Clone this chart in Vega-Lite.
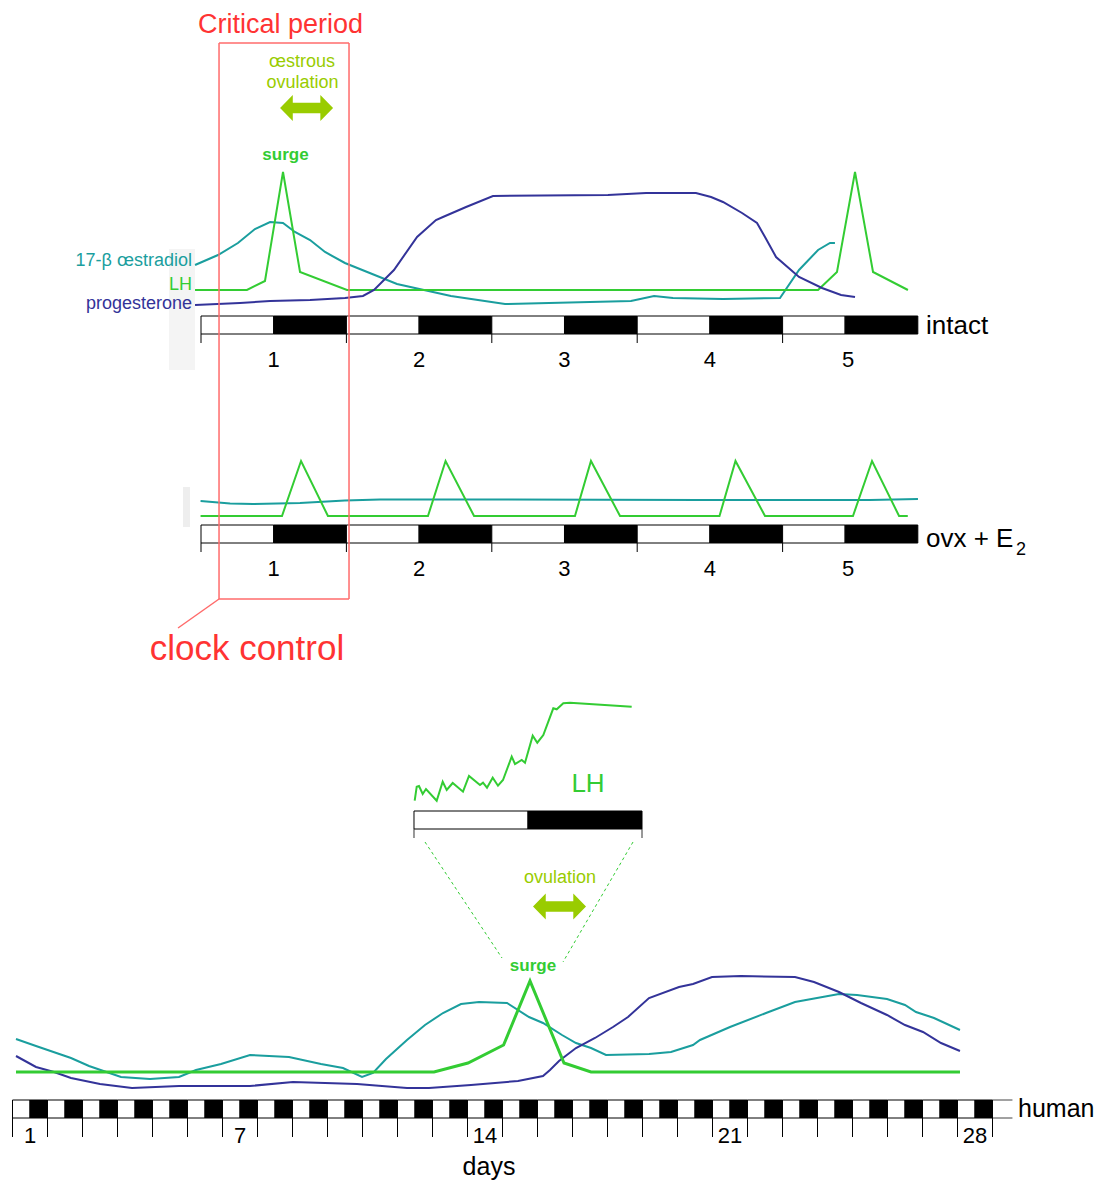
{
  "$schema": "https://vega.github.io/schema/vega-lite/v6.json",
  "padding": 0,
  "spacing": 0,
  "bounds": "flush",
  "config": {"view": {"stroke": null}, "text": {"font": "Liberation Sans"}},
  "datasets": {
    "ratDays": [
      {"day": 0, "day2": 0.5, "phase": "light", "level": 94, "level2": 76}, {"day": 0.5, "day2": 1, "phase": "dark", "level": 94, "level2": 76},
      {"day": 1, "day2": 1.5, "phase": "light", "level": 94, "level2": 76}, {"day": 1.5, "day2": 2, "phase": "dark", "level": 94, "level2": 76},
      {"day": 2, "day2": 2.5, "phase": "light", "level": 94, "level2": 76}, {"day": 2.5, "day2": 3, "phase": "dark", "level": 94, "level2": 76},
      {"day": 3, "day2": 3.5, "phase": "light", "level": 94, "level2": 76}, {"day": 3.5, "day2": 4, "phase": "dark", "level": 94, "level2": 76},
      {"day": 4, "day2": 4.43, "phase": "light", "level": 94, "level2": 76}, {"day": 4.43, "day2": 4.93, "phase": "dark", "level": 94, "level2": 76}
    ],
    "ratTicks": [
      {"day": 0, "level": 76, "level2": 67}, {"day": 1, "level": 76, "level2": 67}, {"day": 2, "level": 76, "level2": 67},
      {"day": 3, "level": 76, "level2": 67}, {"day": 4, "level": 76, "level2": 67}
    ],
    "ratLabels": [
      {"day": 0.5, "label": "1", "level": 43}, {"day": 1.5, "label": "2", "level": 43}, {"day": 2.5, "label": "3", "level": 43},
      {"day": 3.5, "label": "4", "level": 43}, {"day": 4.45, "label": "5", "level": 43}
    ],
    "intact": [
      {"hormone": "17-β œstradiol", "day": -0.041, "level": 145},
      {"hormone": "17-β œstradiol", "day": 0.117, "level": 155},
      {"hormone": "17-β œstradiol", "day": 0.254, "level": 167},
      {"hormone": "17-β œstradiol", "day": 0.371, "level": 181},
      {"hormone": "17-β œstradiol", "day": 0.475, "level": 188},
      {"hormone": "17-β œstradiol", "day": 0.564, "level": 187},
      {"hormone": "17-β œstradiol", "day": 0.646, "level": 178},
      {"hormone": "17-β œstradiol", "day": 0.75, "level": 170},
      {"hormone": "17-β œstradiol", "day": 0.853, "level": 158},
      {"hormone": "17-β œstradiol", "day": 0.99, "level": 147},
      {"hormone": "17-β œstradiol", "day": 1.348, "level": 126},
      {"hormone": "17-β œstradiol", "day": 1.719, "level": 114},
      {"hormone": "17-β œstradiol", "day": 2.091, "level": 106},
      {"hormone": "17-β œstradiol", "day": 2.957, "level": 109},
      {"hormone": "17-β œstradiol", "day": 3.116, "level": 114},
      {"hormone": "17-β œstradiol", "day": 3.246, "level": 112},
      {"hormone": "17-β œstradiol", "day": 3.59, "level": 111},
      {"hormone": "17-β œstradiol", "day": 3.982, "level": 112},
      {"hormone": "17-β œstradiol", "day": 4.113, "level": 140},
      {"hormone": "17-β œstradiol", "day": 4.244, "level": 160},
      {"hormone": "17-β œstradiol", "day": 4.326, "level": 167},
      {"hormone": "17-β œstradiol", "day": 4.36, "level": 167},
      {"hormone": "LH", "day": -0.041, "level": 120},
      {"hormone": "LH", "day": 0.316, "level": 120},
      {"hormone": "LH", "day": 0.44, "level": 129},
      {"hormone": "LH", "day": 0.564, "level": 238},
      {"hormone": "LH", "day": 0.681, "level": 138},
      {"hormone": "LH", "day": 1.004, "level": 120},
      {"hormone": "LH", "day": 4.244, "level": 120},
      {"hormone": "LH", "day": 4.374, "level": 138},
      {"hormone": "LH", "day": 4.498, "level": 238},
      {"hormone": "LH", "day": 4.622, "level": 138},
      {"hormone": "LH", "day": 4.862, "level": 120},
      {"hormone": "progesterone", "day": -0.041, "level": 105},
      {"hormone": "progesterone", "day": 0.268, "level": 107},
      {"hormone": "progesterone", "day": 0.475, "level": 109},
      {"hormone": "progesterone", "day": 0.75, "level": 110},
      {"hormone": "progesterone", "day": 0.99, "level": 112},
      {"hormone": "progesterone", "day": 1.114, "level": 114},
      {"hormone": "progesterone", "day": 1.19, "level": 120},
      {"hormone": "progesterone", "day": 1.327, "level": 140},
      {"hormone": "progesterone", "day": 1.486, "level": 173},
      {"hormone": "progesterone", "day": 1.616, "level": 190},
      {"hormone": "progesterone", "day": 1.664, "level": 193},
      {"hormone": "progesterone", "day": 1.823, "level": 203},
      {"hormone": "progesterone", "day": 2.008, "level": 214},
      {"hormone": "progesterone", "day": 2.799, "level": 215},
      {"hormone": "progesterone", "day": 3.061, "level": 217},
      {"hormone": "progesterone", "day": 3.404, "level": 217},
      {"hormone": "progesterone", "day": 3.508, "level": 213},
      {"hormone": "progesterone", "day": 3.59, "level": 208},
      {"hormone": "progesterone", "day": 3.721, "level": 197},
      {"hormone": "progesterone", "day": 3.824, "level": 187},
      {"hormone": "progesterone", "day": 3.879, "level": 173},
      {"hormone": "progesterone", "day": 3.955, "level": 153},
      {"hormone": "progesterone", "day": 4.113, "level": 133},
      {"hormone": "progesterone", "day": 4.271, "level": 122},
      {"hormone": "progesterone", "day": 4.402, "level": 115},
      {"hormone": "progesterone", "day": 4.498, "level": 113}
    ],
    "ovx": [
      {"hormone": "17-β œstradiol", "day": -0.003, "level": 118},
      {"hormone": "17-β œstradiol", "day": 0.2, "level": 115.5},
      {"hormone": "17-β œstradiol", "day": 0.358, "level": 115},
      {"hormone": "17-β œstradiol", "day": 0.681, "level": 116},
      {"hormone": "17-β œstradiol", "day": 0.99, "level": 118.5},
      {"hormone": "17-β œstradiol", "day": 1.231, "level": 119.5},
      {"hormone": "17-β œstradiol", "day": 2.056, "level": 119.5},
      {"hormone": "17-β œstradiol", "day": 3.432, "level": 119},
      {"hormone": "17-β œstradiol", "day": 4.601, "level": 119},
      {"hormone": "17-β œstradiol", "day": 4.931, "level": 120},
      {"hormone": "LH", "day": -0.003, "level": 103},
      {"hormone": "LH", "day": 0.557, "level": 103},
      {"hormone": "LH", "day": 0.688, "level": 158},
      {"hormone": "LH", "day": 0.873, "level": 103},
      {"hormone": "LH", "day": 1.561, "level": 103},
      {"hormone": "LH", "day": 1.682, "level": 158},
      {"hormone": "LH", "day": 1.878, "level": 103},
      {"hormone": "LH", "day": 2.572, "level": 103},
      {"hormone": "LH", "day": 2.682, "level": 158},
      {"hormone": "LH", "day": 2.882, "level": 103},
      {"hormone": "LH", "day": 3.566, "level": 103},
      {"hormone": "LH", "day": 3.676, "level": 158},
      {"hormone": "LH", "day": 3.879, "level": 103},
      {"hormone": "LH", "day": 4.484, "level": 103},
      {"hormone": "LH", "day": 4.615, "level": 158},
      {"hormone": "LH", "day": 4.801, "level": 103},
      {"hormone": "LH", "day": 4.861, "level": 103}
    ],
    "humanDays": [
      {"day": 1, "day2": 1.5, "phase": "light", "level": 82, "level2": 64}, {"day": 1.5, "day2": 2, "phase": "dark", "level": 82, "level2": 64},
      {"day": 2, "day2": 2.5, "phase": "light", "level": 82, "level2": 64}, {"day": 2.5, "day2": 3, "phase": "dark", "level": 82, "level2": 64},
      {"day": 3, "day2": 3.5, "phase": "light", "level": 82, "level2": 64}, {"day": 3.5, "day2": 4, "phase": "dark", "level": 82, "level2": 64},
      {"day": 4, "day2": 4.5, "phase": "light", "level": 82, "level2": 64}, {"day": 4.5, "day2": 5, "phase": "dark", "level": 82, "level2": 64},
      {"day": 5, "day2": 5.5, "phase": "light", "level": 82, "level2": 64}, {"day": 5.5, "day2": 6, "phase": "dark", "level": 82, "level2": 64},
      {"day": 6, "day2": 6.5, "phase": "light", "level": 82, "level2": 64}, {"day": 6.5, "day2": 7, "phase": "dark", "level": 82, "level2": 64},
      {"day": 7, "day2": 7.5, "phase": "light", "level": 82, "level2": 64}, {"day": 7.5, "day2": 8, "phase": "dark", "level": 82, "level2": 64},
      {"day": 8, "day2": 8.5, "phase": "light", "level": 82, "level2": 64}, {"day": 8.5, "day2": 9, "phase": "dark", "level": 82, "level2": 64},
      {"day": 9, "day2": 9.5, "phase": "light", "level": 82, "level2": 64}, {"day": 9.5, "day2": 10, "phase": "dark", "level": 82, "level2": 64},
      {"day": 10, "day2": 10.5, "phase": "light", "level": 82, "level2": 64}, {"day": 10.5, "day2": 11, "phase": "dark", "level": 82, "level2": 64},
      {"day": 11, "day2": 11.5, "phase": "light", "level": 82, "level2": 64}, {"day": 11.5, "day2": 12, "phase": "dark", "level": 82, "level2": 64},
      {"day": 12, "day2": 12.5, "phase": "light", "level": 82, "level2": 64}, {"day": 12.5, "day2": 13, "phase": "dark", "level": 82, "level2": 64},
      {"day": 13, "day2": 13.5, "phase": "light", "level": 82, "level2": 64}, {"day": 13.5, "day2": 14, "phase": "dark", "level": 82, "level2": 64},
      {"day": 14, "day2": 14.5, "phase": "light", "level": 82, "level2": 64}, {"day": 14.5, "day2": 15, "phase": "dark", "level": 82, "level2": 64},
      {"day": 15, "day2": 15.5, "phase": "light", "level": 82, "level2": 64}, {"day": 15.5, "day2": 16, "phase": "dark", "level": 82, "level2": 64},
      {"day": 16, "day2": 16.5, "phase": "light", "level": 82, "level2": 64}, {"day": 16.5, "day2": 17, "phase": "dark", "level": 82, "level2": 64},
      {"day": 17, "day2": 17.5, "phase": "light", "level": 82, "level2": 64}, {"day": 17.5, "day2": 18, "phase": "dark", "level": 82, "level2": 64},
      {"day": 18, "day2": 18.5, "phase": "light", "level": 82, "level2": 64}, {"day": 18.5, "day2": 19, "phase": "dark", "level": 82, "level2": 64},
      {"day": 19, "day2": 19.5, "phase": "light", "level": 82, "level2": 64}, {"day": 19.5, "day2": 20, "phase": "dark", "level": 82, "level2": 64},
      {"day": 20, "day2": 20.5, "phase": "light", "level": 82, "level2": 64}, {"day": 20.5, "day2": 21, "phase": "dark", "level": 82, "level2": 64},
      {"day": 21, "day2": 21.5, "phase": "light", "level": 82, "level2": 64}, {"day": 21.5, "day2": 22, "phase": "dark", "level": 82, "level2": 64},
      {"day": 22, "day2": 22.5, "phase": "light", "level": 82, "level2": 64}, {"day": 22.5, "day2": 23, "phase": "dark", "level": 82, "level2": 64},
      {"day": 23, "day2": 23.5, "phase": "light", "level": 82, "level2": 64}, {"day": 23.5, "day2": 24, "phase": "dark", "level": 82, "level2": 64},
      {"day": 24, "day2": 24.5, "phase": "light", "level": 82, "level2": 64}, {"day": 24.5, "day2": 25, "phase": "dark", "level": 82, "level2": 64},
      {"day": 25, "day2": 25.5, "phase": "light", "level": 82, "level2": 64}, {"day": 25.5, "day2": 26, "phase": "dark", "level": 82, "level2": 64},
      {"day": 26, "day2": 26.5, "phase": "light", "level": 82, "level2": 64}, {"day": 26.5, "day2": 27, "phase": "dark", "level": 82, "level2": 64},
      {"day": 27, "day2": 27.5, "phase": "light", "level": 82, "level2": 64}, {"day": 27.5, "day2": 28, "phase": "dark", "level": 82, "level2": 64},
      {"day": 28, "day2": 28.5, "phase": "light", "level": 82, "level2": 64}, {"day": 28.5, "day2": 29, "phase": "dark", "level": 82, "level2": 64}
    ],
    "humanTicks": [
      {"day": 1, "level": 64, "level2": 45}, {"day": 2, "level": 64, "level2": 45}, {"day": 3, "level": 64, "level2": 45},
      {"day": 4, "level": 64, "level2": 45}, {"day": 5, "level": 64, "level2": 45}, {"day": 6, "level": 64, "level2": 45},
      {"day": 7, "level": 64, "level2": 45}, {"day": 8, "level": 64, "level2": 45}, {"day": 9, "level": 64, "level2": 45},
      {"day": 10, "level": 64, "level2": 45}, {"day": 11, "level": 64, "level2": 45}, {"day": 12, "level": 64, "level2": 45},
      {"day": 13, "level": 64, "level2": 45}, {"day": 14, "level": 64, "level2": 45}, {"day": 15, "level": 64, "level2": 45},
      {"day": 16, "level": 64, "level2": 45}, {"day": 17, "level": 64, "level2": 45}, {"day": 18, "level": 64, "level2": 45},
      {"day": 19, "level": 64, "level2": 45}, {"day": 20, "level": 64, "level2": 45}, {"day": 21, "level": 64, "level2": 45},
      {"day": 22, "level": 64, "level2": 45}, {"day": 23, "level": 64, "level2": 45}, {"day": 24, "level": 64, "level2": 45},
      {"day": 25, "level": 64, "level2": 45}, {"day": 26, "level": 64, "level2": 45}, {"day": 27, "level": 64, "level2": 45},
      {"day": 28, "level": 64, "level2": 45}, {"day": 29, "level": 64, "level2": 45}
    ],
    "human": [
      {"hormone": "LH", "day": 1.1, "level": 110},
      {"hormone": "LH", "day": 13.043, "level": 110},
      {"hormone": "LH", "day": 14.014, "level": 119},
      {"hormone": "LH", "day": 15.031, "level": 137},
      {"hormone": "LH", "day": 15.786, "level": 201},
      {"hormone": "LH", "day": 16.757, "level": 119},
      {"hormone": "LH", "day": 17.529, "level": 110},
      {"hormone": "LH", "day": 28.071, "level": 110},
      {"hormone": "17-β œstradiol", "day": 1.1, "level": 143},
      {"hormone": "17-β œstradiol", "day": 1.671, "level": 136},
      {"hormone": "17-β œstradiol", "day": 2.671, "level": 124},
      {"hormone": "17-β œstradiol", "day": 3.186, "level": 116},
      {"hormone": "17-β œstradiol", "day": 4.1, "level": 105},
      {"hormone": "17-β œstradiol", "day": 4.929, "level": 103},
      {"hormone": "17-β œstradiol", "day": 5.757, "level": 105},
      {"hormone": "17-β œstradiol", "day": 6.243, "level": 112},
      {"hormone": "17-β œstradiol", "day": 6.957, "level": 118},
      {"hormone": "17-β œstradiol", "day": 7.786, "level": 127},
      {"hormone": "17-β œstradiol", "day": 8.9, "level": 125},
      {"hormone": "17-β œstradiol", "day": 9.814, "level": 118},
      {"hormone": "17-β œstradiol", "day": 10.443, "level": 114},
      {"hormone": "17-β œstradiol", "day": 10.986, "level": 105},
      {"hormone": "17-β œstradiol", "day": 11.3, "level": 109},
      {"hormone": "17-β œstradiol", "day": 11.671, "level": 123},
      {"hormone": "17-β œstradiol", "day": 12.271, "level": 142},
      {"hormone": "17-β œstradiol", "day": 12.786, "level": 157},
      {"hormone": "17-β œstradiol", "day": 13.3, "level": 169},
      {"hormone": "17-β œstradiol", "day": 13.814, "level": 178},
      {"hormone": "17-β œstradiol", "day": 14.329, "level": 180},
      {"hormone": "17-β œstradiol", "day": 15.129, "level": 179},
      {"hormone": "17-β œstradiol", "day": 15.757, "level": 165},
      {"hormone": "17-β œstradiol", "day": 16.157, "level": 159},
      {"hormone": "17-β œstradiol", "day": 16.7, "level": 147},
      {"hormone": "17-β œstradiol", "day": 17.1, "level": 139},
      {"hormone": "17-β œstradiol", "day": 17.529, "level": 134},
      {"hormone": "17-β œstradiol", "day": 17.957, "level": 127},
      {"hormone": "17-β œstradiol", "day": 19.186, "level": 128},
      {"hormone": "17-β œstradiol", "day": 19.814, "level": 130},
      {"hormone": "17-β œstradiol", "day": 20.443, "level": 137},
      {"hormone": "17-β œstradiol", "day": 20.643, "level": 142},
      {"hormone": "17-β œstradiol", "day": 21.5, "level": 155},
      {"hormone": "17-β œstradiol", "day": 22.529, "level": 169},
      {"hormone": "17-β œstradiol", "day": 23.357, "level": 180},
      {"hormone": "17-β œstradiol", "day": 24.614, "level": 188},
      {"hormone": "17-β œstradiol", "day": 25.129, "level": 187},
      {"hormone": "17-β œstradiol", "day": 25.986, "level": 183},
      {"hormone": "17-β œstradiol", "day": 26.5, "level": 177},
      {"hormone": "17-β œstradiol", "day": 26.814, "level": 170},
      {"hormone": "17-β œstradiol", "day": 27.329, "level": 164},
      {"hormone": "17-β œstradiol", "day": 28.071, "level": 152},
      {"hormone": "progesterone", "day": 1.1, "level": 126},
      {"hormone": "progesterone", "day": 1.671, "level": 115},
      {"hormone": "progesterone", "day": 2.186, "level": 110},
      {"hormone": "progesterone", "day": 2.671, "level": 104},
      {"hormone": "progesterone", "day": 3.5, "level": 98},
      {"hormone": "progesterone", "day": 4.414, "level": 94},
      {"hormone": "progesterone", "day": 5.757, "level": 96},
      {"hormone": "progesterone", "day": 7.786, "level": 96},
      {"hormone": "progesterone", "day": 9.014, "level": 100},
      {"hormone": "progesterone", "day": 10.843, "level": 98},
      {"hormone": "progesterone", "day": 12.271, "level": 94},
      {"hormone": "progesterone", "day": 12.9, "level": 94},
      {"hormone": "progesterone", "day": 14.1, "level": 97},
      {"hormone": "progesterone", "day": 15.443, "level": 101},
      {"hormone": "progesterone", "day": 16.157, "level": 106},
      {"hormone": "progesterone", "day": 16.357, "level": 112},
      {"hormone": "progesterone", "day": 16.614, "level": 121},
      {"hormone": "progesterone", "day": 17.1, "level": 134},
      {"hormone": "progesterone", "day": 17.643, "level": 144},
      {"hormone": "progesterone", "day": 18.157, "level": 155},
      {"hormone": "progesterone", "day": 18.586, "level": 165},
      {"hormone": "progesterone", "day": 19.186, "level": 184},
      {"hormone": "progesterone", "day": 20.043, "level": 195},
      {"hormone": "progesterone", "day": 20.443, "level": 198},
      {"hormone": "progesterone", "day": 20.986, "level": 205},
      {"hormone": "progesterone", "day": 21.814, "level": 206},
      {"hormone": "progesterone", "day": 23.357, "level": 205},
      {"hormone": "progesterone", "day": 23.9, "level": 200},
      {"hormone": "progesterone", "day": 24.614, "level": 190},
      {"hormone": "progesterone", "day": 25.243, "level": 179},
      {"hormone": "progesterone", "day": 25.986, "level": 167},
      {"hormone": "progesterone", "day": 26.5, "level": 157},
      {"hormone": "progesterone", "day": 27.014, "level": 150},
      {"hormone": "progesterone", "day": 27.529, "level": 139},
      {"hormone": "progesterone", "day": 28.071, "level": 131}
    ],
    "inset": [
      {"hormone": "LH", "day": 12.491, "level": 381.3},
      {"hormone": "LH", "day": 12.549, "level": 395.3},
      {"hormone": "LH", "day": 12.614, "level": 396},
      {"hormone": "LH", "day": 12.72, "level": 388},
      {"hormone": "LH", "day": 12.814, "level": 393},
      {"hormone": "LH", "day": 13.12, "level": 381.3},
      {"hormone": "LH", "day": 13.291, "level": 400.3},
      {"hormone": "LH", "day": 13.406, "level": 392},
      {"hormone": "LH", "day": 13.577, "level": 399},
      {"hormone": "LH", "day": 13.871, "level": 390.3},
      {"hormone": "LH", "day": 14.043, "level": 406},
      {"hormone": "LH", "day": 14.357, "level": 397},
      {"hormone": "LH", "day": 14.443, "level": 399.3},
      {"hormone": "LH", "day": 14.557, "level": 394.3},
      {"hormone": "LH", "day": 14.72, "level": 404.3},
      {"hormone": "LH", "day": 14.871, "level": 396.3},
      {"hormone": "LH", "day": 15.014, "level": 402},
      {"hormone": "LH", "day": 15.263, "level": 425.3},
      {"hormone": "LH", "day": 15.357, "level": 418},
      {"hormone": "LH", "day": 15.549, "level": 422},
      {"hormone": "LH", "day": 15.643, "level": 419.3},
      {"hormone": "LH", "day": 15.863, "level": 446.3},
      {"hormone": "LH", "day": 15.994, "level": 439.3},
      {"hormone": "LH", "day": 16.166, "level": 447},
      {"hormone": "LH", "day": 16.451, "level": 473.7},
      {"hormone": "LH", "day": 16.549, "level": 472.7},
      {"hormone": "LH", "day": 16.737, "level": 478.7},
      {"hormone": "LH", "day": 16.929, "level": 479.3},
      {"hormone": "LH", "day": 18.691, "level": 475.3}
    ]
  },
  "vconcat": [
    {
      "width": 1112,
      "height": 410,
      "encoding": {
        "x": {"field": "day", "type": "quantitative", "scale": {"domain": [-1.3824, 6.2655], "nice": false, "zero": false}, "axis": null},
        "y": {"field": "level", "type": "quantitative", "scale": {"domain": [0, 410], "nice": false, "zero": false}, "axis": null}
      },
      "layer": [
        {
          "data": {"values": [{"day": -0.22, "day2": -0.041, "level": 161, "level2": 40}]},
          "mark": {"type": "rect", "color": "#f4f4f4"},
          "encoding": {"x2": {"field": "day2"}, "y2": {"field": "level2"}}
        },
        {
          "data": {"name": "ratDays"},
          "mark": {"type": "rect", "stroke": "#000000", "strokeWidth": 1},
          "encoding": {
            "x2": {"field": "day2"},
            "y2": {"field": "level2"},
            "fill": {"field": "phase", "type": "nominal", "scale": {"domain": ["light", "dark"], "range": ["#ffffff", "#000000"]}, "legend": null}
          }
        },
        {
          "data": {"name": "ratTicks"},
          "mark": {"type": "rule", "color": "#000000", "strokeWidth": 1},
          "encoding": {"y2": {"field": "level2"}}
        },
        {
          "data": {"name": "intact"},
          "mark": {"type": "line", "strokeWidth": 2},
          "encoding": {
            "color": {"field": "hormone", "type": "nominal", "scale": {"domain": ["17-β œstradiol", "LH", "progesterone"], "range": ["#1a9e9e", "#33cc33", "#333399"]}, "legend": null}
          }
        },
        {
          "data": {"values": [
            {"hormone": "17-β œstradiol", "day": -0.062, "level": 144},
            {"hormone": "LH", "day": -0.062, "level": 120},
            {"hormone": "progesterone", "day": -0.062, "level": 101}
          ]},
          "mark": {"type": "text", "align": "right", "baseline": "alphabetic", "fontSize": 18},
          "encoding": {
            "text": {"field": "hormone"},
            "color": {"field": "hormone", "type": "nominal", "scale": {"domain": ["17-β œstradiol", "LH", "progesterone"], "range": ["#1a9e9e", "#33cc33", "#333399"]}, "legend": null}
          }
        },
        {
          "data": {"name": "ratLabels"},
          "mark": {"type": "text", "align": "center", "baseline": "alphabetic", "fontSize": 22, "color": "#000000"},
          "encoding": {"text": {"field": "label"}}
        },
        {
          "data": {"values": [{"label": "intact", "day": 4.986, "level": 76}]},
          "mark": {"type": "text", "align": "left", "baseline": "alphabetic", "fontSize": 26, "color": "#000000"},
          "encoding": {"text": {"field": "label"}}
        },
        {
          "data": {"values": [{"label": "surge", "day": 0.581, "level": 250}]},
          "mark": {"type": "text", "align": "center", "baseline": "alphabetic", "fontSize": 17, "fontWeight": "bold", "color": "#33cc33"},
          "encoding": {"text": {"field": "label"}}
        },
        {
          "data": {"values": [{"label": "œstrous", "day": 0.695, "level": 343}, {"label": "ovulation", "day": 0.698, "level": 322}]},
          "mark": {"type": "text", "align": "center", "baseline": "alphabetic", "fontSize": 18, "color": "#99cc00"},
          "encoding": {"text": {"field": "label"}}
        },
        {
          "data": {"values": [{"label": "ovulation window", "day": 0.726, "level": 302}]},
          "mark": {"type": "point", "shape": "M-1,0L-0.52,-0.49L-0.52,-0.2L0.52,-0.2L0.52,-0.49L1,0L0.52,0.49L0.52,0.2L-0.52,0.2L-0.52,0.49Z", "filled": true, "color": "#99cc00", "size": 2809, "opacity": 1, "strokeWidth": 0}
        },
        {
          "data": {"values": [{"label": "Critical period", "day": 0.547, "level": 377}]},
          "mark": {"type": "text", "align": "center", "baseline": "alphabetic", "fontSize": 27, "color": "#ff3333"},
          "encoding": {"text": {"field": "label"}}
        },
        {
          "data": {"values": [
            {"day": 0.124, "day2": 1.018, "level": 367, "level2": 367},
            {"day": 0.124, "day2": 0.124, "level": 367, "level2": 0},
            {"day": 1.018, "day2": 1.018, "level": 367, "level2": 0}
          ]},
          "mark": {"type": "rule", "color": "#ff6b6b", "strokeWidth": 1.5},
          "encoding": {"x2": {"field": "day2"}, "y2": {"field": "level2"}}
        }
      ]
    },
    {
      "width": 1112,
      "height": 275,
      "encoding": {
        "x": {"field": "day", "type": "quantitative", "scale": {"domain": [-1.3824, 6.2655], "nice": false, "zero": false}, "axis": null},
        "y": {"field": "level", "type": "quantitative", "scale": {"domain": [-66, 209], "nice": false, "zero": false}, "axis": null}
      },
      "layer": [
        {
          "data": {"values": [{"day": -0.124, "day2": -0.076, "level": 132, "level2": 92}]},
          "mark": {"type": "rect", "color": "#eeeeee"},
          "encoding": {"x2": {"field": "day2"}, "y2": {"field": "level2"}}
        },
        {
          "data": {"name": "ratDays"},
          "mark": {"type": "rect", "stroke": "#000000", "strokeWidth": 1},
          "encoding": {
            "x2": {"field": "day2"},
            "y2": {"field": "level2"},
            "fill": {"field": "phase", "type": "nominal", "scale": {"domain": ["light", "dark"], "range": ["#ffffff", "#000000"]}, "legend": null}
          }
        },
        {
          "data": {"name": "ratTicks"},
          "mark": {"type": "rule", "color": "#000000", "strokeWidth": 1},
          "encoding": {"y2": {"field": "level2"}}
        },
        {
          "data": {"name": "ovx"},
          "mark": {"type": "line", "strokeWidth": 2},
          "encoding": {
            "color": {"field": "hormone", "type": "nominal", "scale": {"domain": ["17-β œstradiol", "LH", "progesterone"], "range": ["#1a9e9e", "#33cc33", "#333399"]}, "legend": null}
          }
        },
        {
          "data": {"name": "ratLabels"},
          "mark": {"type": "text", "align": "center", "baseline": "alphabetic", "fontSize": 22, "color": "#000000"},
          "encoding": {"text": {"field": "label"}}
        },
        {
          "data": {"values": [{"label": "ovx + E", "day": 4.986, "level": 72}]},
          "mark": {"type": "text", "align": "left", "baseline": "alphabetic", "fontSize": 26, "color": "#000000"},
          "encoding": {"text": {"field": "label"}}
        },
        {
          "data": {"values": [{"label": "2", "day": 5.605, "level": 64}]},
          "mark": {"type": "text", "align": "left", "baseline": "alphabetic", "fontSize": 18, "color": "#000000"},
          "encoding": {"text": {"field": "label"}}
        },
        {
          "data": {"values": [
            {"day": 0.124, "day2": 0.124, "level": 209, "level2": 20},
            {"day": 1.018, "day2": 1.018, "level": 209, "level2": 20},
            {"day": 0.124, "day2": 1.018, "level": 20, "level2": 20},
            {"day": 0.124, "day2": -0.158, "level": 20, "level2": -9}
          ]},
          "mark": {"type": "rule", "color": "#ff6b6b", "strokeWidth": 1.5},
          "encoding": {"x2": {"field": "day2"}, "y2": {"field": "level2"}}
        },
        {
          "data": {"values": [{"label": "clock control", "day": 0.316, "level": -41}]},
          "mark": {"type": "text", "align": "center", "baseline": "alphabetic", "fontSize": 35, "color": "#ff3333"},
          "encoding": {"text": {"field": "label"}}
        }
      ]
    },
    {
      "width": 1112,
      "height": 497,
      "encoding": {
        "x": {"field": "day", "type": "quantitative", "scale": {"domain": [0.642857, 32.414286], "nice": false, "zero": false}, "axis": null},
        "y": {"field": "level", "type": "quantitative", "scale": {"domain": [0, 497], "nice": false, "zero": false}, "axis": null}
      },
      "layer": [
        {
          "data": {"values": [
            {"day": 12.786, "day2": 14.986, "level": 340, "level2": 224},
            {"day": 18.729, "day2": 16.729, "level": 340, "level2": 220}
          ]},
          "mark": {"type": "rule", "color": "#33cc33", "strokeWidth": 1, "strokeDash": [3, 3]},
          "encoding": {"x2": {"field": "day2"}, "y2": {"field": "level2"}}
        },
        {
          "data": {"values": [
            {"day": 12.471, "day2": 15.729, "phase": "light", "level": 371, "level2": 353},
            {"day": 15.729, "day2": 18.986, "phase": "dark", "level": 371, "level2": 353}
          ]},
          "mark": {"type": "rect", "stroke": "#000000", "strokeWidth": 1},
          "encoding": {
            "x2": {"field": "day2"},
            "y2": {"field": "level2"},
            "fill": {"field": "phase", "type": "nominal", "scale": {"domain": ["light", "dark"], "range": ["#ffffff", "#000000"]}, "legend": null}
          }
        },
        {
          "data": {"values": [{"day": 12.471, "level": 353, "level2": 344}, {"day": 18.986, "level": 353, "level2": 344}]},
          "mark": {"type": "rule", "color": "#333333", "strokeWidth": 1},
          "encoding": {"y2": {"field": "level2"}}
        },
        {
          "data": {"name": "inset"},
          "mark": {"type": "line", "strokeWidth": 2},
          "encoding": {
            "color": {"field": "hormone", "type": "nominal", "scale": {"domain": ["17-β œstradiol", "LH", "progesterone"], "range": ["#1a9e9e", "#33cc33", "#333399"]}, "legend": null}
          }
        },
        {
          "data": {"values": [{"label": "LH", "day": 17.443, "level": 390}]},
          "mark": {"type": "text", "align": "center", "baseline": "alphabetic", "fontSize": 26, "color": "#33cc33"},
          "encoding": {"text": {"field": "label"}}
        },
        {
          "data": {"values": [{"label": "ovulation", "day": 16.643, "level": 299}]},
          "mark": {"type": "text", "align": "center", "baseline": "alphabetic", "fontSize": 18, "color": "#99cc00"},
          "encoding": {"text": {"field": "label"}}
        },
        {
          "data": {"values": [{"label": "ovulation window", "day": 16.629, "level": 275.5}]},
          "mark": {"type": "point", "shape": "M-1,0L-0.52,-0.49L-0.52,-0.2L0.52,-0.2L0.52,-0.49L1,0L0.52,0.49L0.52,0.2L-0.52,0.2L-0.52,0.49Z", "filled": true, "color": "#99cc00", "size": 2809, "opacity": 1, "strokeWidth": 0}
        },
        {
          "data": {"values": [{"label": "surge", "day": 15.871, "level": 211}]},
          "mark": {"type": "text", "align": "center", "baseline": "alphabetic", "fontSize": 17, "fontWeight": "bold", "color": "#33cc33"},
          "encoding": {"text": {"field": "label"}}
        },
        {
          "data": {"name": "human"},
          "transform": [{"filter": "datum.hormone !== 'LH'"}],
          "mark": {"type": "line", "strokeWidth": 2},
          "encoding": {
            "color": {"field": "hormone", "type": "nominal", "scale": {"domain": ["17-β œstradiol", "LH", "progesterone"], "range": ["#1a9e9e", "#33cc33", "#333399"]}, "legend": null}
          }
        },
        {
          "data": {"name": "human"},
          "transform": [{"filter": "datum.hormone === 'LH'"}],
          "mark": {"type": "line", "strokeWidth": 3},
          "encoding": {
            "color": {"field": "hormone", "type": "nominal", "scale": {"domain": ["17-β œstradiol", "LH", "progesterone"], "range": ["#1a9e9e", "#33cc33", "#333399"]}, "legend": null}
          }
        },
        {
          "data": {"values": [
            {"day": 29, "day2": 29.57, "level": 82, "level2": 82},
            {"day": 29, "day2": 29.57, "level": 64, "level2": 64}
          ]},
          "mark": {"type": "rule", "color": "#444444", "strokeWidth": 1},
          "encoding": {"x2": {"field": "day2"}, "y2": {"field": "level2"}}
        },
        {
          "data": {"name": "humanDays"},
          "mark": {"type": "rect", "stroke": "#000000", "strokeWidth": 1},
          "encoding": {
            "x2": {"field": "day2"},
            "y2": {"field": "level2"},
            "fill": {"field": "phase", "type": "nominal", "scale": {"domain": ["light", "dark"], "range": ["#ffffff", "#000000"]}, "legend": null}
          }
        },
        {
          "data": {"name": "humanTicks"},
          "mark": {"type": "rule", "color": "#000000", "strokeWidth": 1},
          "encoding": {"y2": {"field": "level2"}}
        },
        {
          "data": {"values": [
            {"day": 1.5, "label": "1", "level": 39}, {"day": 7.5, "label": "7", "level": 39}, {"day": 14.5, "label": "14", "level": 39},
            {"day": 21.5, "label": "21", "level": 39}, {"day": 28.5, "label": "28", "level": 39}
          ]},
          "mark": {"type": "text", "align": "center", "baseline": "alphabetic", "fontSize": 22, "color": "#000000"},
          "encoding": {"text": {"field": "label"}}
        },
        {
          "data": {"values": [{"label": "human", "day": 29.729, "level": 65}]},
          "mark": {"type": "text", "align": "left", "baseline": "alphabetic", "fontSize": 25, "color": "#000000"},
          "encoding": {"text": {"field": "label"}}
        },
        {
          "data": {"values": [{"label": "days", "day": 14.614, "level": 7}]},
          "mark": {"type": "text", "align": "center", "baseline": "alphabetic", "fontSize": 25, "color": "#000000"},
          "encoding": {"text": {"field": "label"}}
        }
      ]
    }
  ]
}
